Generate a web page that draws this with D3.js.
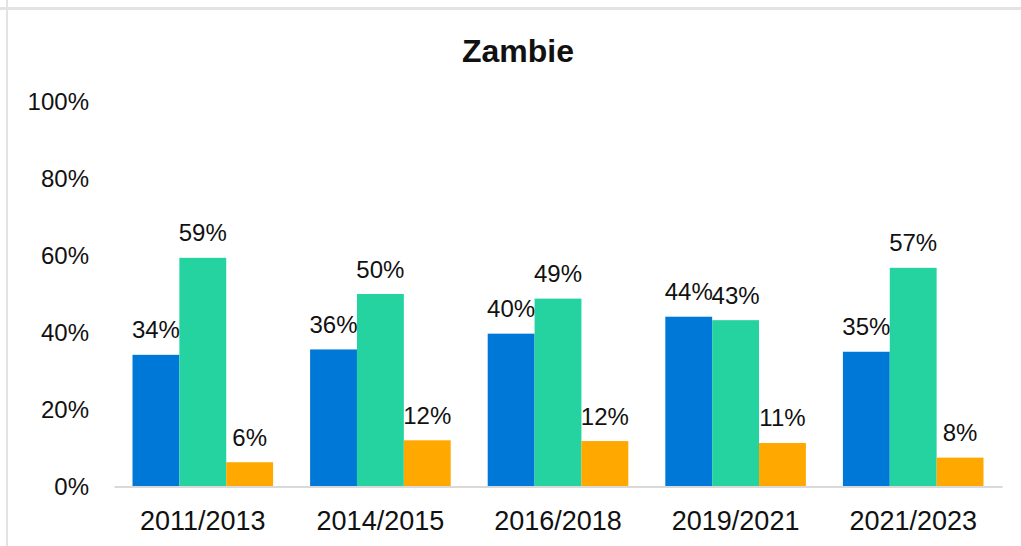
<!DOCTYPE html>
<html>
<head>
<meta charset="utf-8">
<script src="https://cdn.jsdelivr.net/npm/d3@7"></script>
<style>
  html, body { margin: 0; padding: 0; background: #ffffff; }
  svg { display: block; }
  text { font-family: "Liberation Sans", "Noto Sans", sans-serif; fill: #111111; }
</style>
</head>
<body>
<svg id="chart" width="1021" height="546"></svg>
<script>
const title = "Zambie";
const categories = ["2011/2013", "2014/2015", "2016/2018", "2019/2021", "2021/2023"];
const seriesNames = ["A", "B", "C"];
const seriesA = [34.2, 35.6, 39.7, 44.1, 35.0];
const seriesB = [59.4, 50.0, 48.8, 43.2, 56.8];
const seriesC = [6.3, 12.0, 11.8, 11.3, 7.5];
const yTicks = [0, 20, 40, 60, 80, 100];
const colors = ["#0078D7", "#25D3A0", "#FFA800"];

const seriesValues = [seriesA, seriesB, seriesC];
const svg = d3.select("#chart");

// frame
svg.append("rect").attr("x", 0).attr("y", 7).attr("width", 1021).attr("height", 3).attr("fill", "#e3e3e3");
svg.append("rect").attr("x", 6).attr("y", 0).attr("width", 2).attr("height", 546).attr("fill", "#e3e3e3");

const plotLeft = 114, plotRight = 1002, plotTop = 101.5, plotBottom = 486.5;

const x0 = d3.scaleBand().domain(categories).range([plotLeft, plotRight]).padding(0);
const x1 = d3.scaleBand().domain(seriesNames).range([18.5, x0.bandwidth() - 18.5]).padding(0);
const y = d3.scaleLinear().domain([0, 100]).range([plotBottom, plotTop]);

// title
svg.append("text").attr("x", 518).attr("y", 62).attr("text-anchor", "middle")
  .style("font-size", "32px").style("font-weight", "bold").text(title);

// y axis labels
const yAxis = d3.axisLeft(y).tickValues(yTicks).tickSize(0).tickPadding(0).tickFormat(d => d + "%");
const yg = svg.append("g").attr("transform", "translate(89,0)").call(yAxis);
yg.select(".domain").remove();
yg.selectAll("text").style("font-size", "24px").attr("dy", "0.35em").style("fill", "#111");

// bars
const groups = svg.append("g").selectAll("g").data(categories).join("g")
  .attr("transform", d => `translate(${x0(d)},0)`);

groups.selectAll("rect").data((d, i) => seriesNames.map((s, j) => ({ s, j, v: seriesValues[j][i] })))
  .join("rect")
  .attr("x", d => x1(d.s))
  .attr("y", d => y(d.v))
  .attr("width", x1.bandwidth())
  .attr("height", d => y(0) - y(d.v))
  .attr("fill", d => colors[d.j]);

groups.selectAll("text.lbl").data((d, i) => seriesNames.map((s, j) => ({ s, j, v: seriesValues[j][i] })))
  .join("text").attr("class", "lbl")
  .attr("x", d => x1(d.s) + x1.bandwidth() / 2)
  .attr("y", d => y(d.v) - 16.5)
  .attr("text-anchor", "middle")
  .style("font-size", "24px")
  .text(d => Math.round(d.v) + "%");

// x axis
const xAxis = d3.axisBottom(x0).tickSize(0).tickPadding(0);
const xg = svg.append("g").attr("transform", `translate(0,${plotBottom})`).call(xAxis);
xg.select(".domain").attr("stroke", "#d9d9d9").attr("stroke-width", 2);
xg.selectAll("text").style("font-size", "27px").attr("y", 43.5).attr("dy", 0).style("fill", "#111");
</script>
</body>
</html>
